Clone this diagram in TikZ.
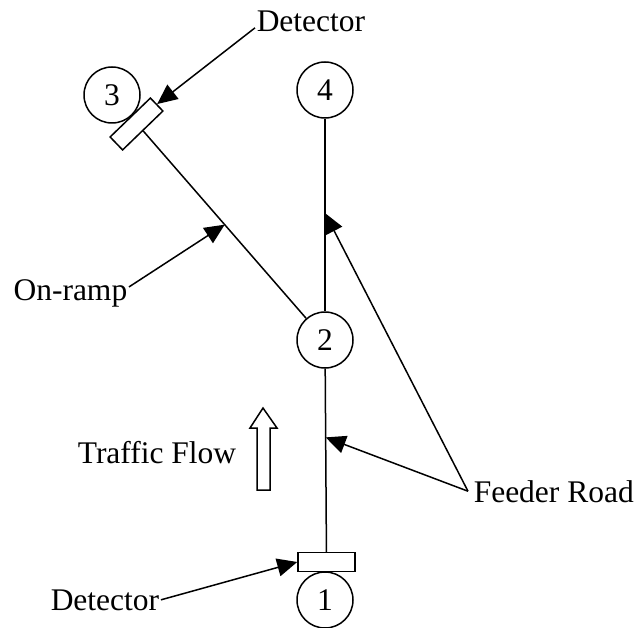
\documentclass[tikz,border=0pt]{standalone}
\usepackage{fontspec}
\setmainfont{Liberation Serif}
\usetikzlibrary{positioning, arrows.meta}

\begin{document}
\begin{tikzpicture}[x=1pt, y=-1pt, line width=1.5pt,
        font=\fontsize{31.5}{38}\selectfont,
        junction/.style={draw, circle, minimum size=56pt, inner sep=0pt},
        detbox/.style={draw, fill=white, rectangle, minimum width=57pt, minimum height=19pt, inner sep=0pt},
        caption/.style={inner sep=1pt},
        pointer/.style={-{Triangle[length=20pt, width=18pt]}}]
    \useasboundingbox (0,0) rectangle (639,628);
    % junctions of the network
    \foreach \n/\x/\y in {1/325/600, 2/325/340, 3/112/95, 4/325/90}
        \node[junction] (n\n) at (\x,\y) {\n};
    % detectors
    \node[detbox] (det1) at (326.5,562) {};
    \node[detbox, rotate=44, minimum width=56pt, minimum height=18pt] (det3) at (136.5,124) {};
    % roads
    \draw (n4) -- (n2) coordinate[pos=.49] (feedtop);
    \draw (n2) -- (det1) coordinate[pos=.375] (feedlow);
    \draw (det3.south) -- (n2) coordinate[pos=.5] (rampmid);
    % labels
    \node[caption, anchor=base west] (dettop) at (255,32) {Detector};
    \node[caption, anchor=base east] (ramp) at (129,300) {On-ramp};
    \node[caption, anchor=base east] (flow) at (238,463) {Traffic Flow};
    \node[caption, anchor=base west] (feeder) at (472,502) {Feeder Road};
    \node[caption, anchor=base west] (detlow) at (49,610) {Detector};
    % traffic direction
    \draw (263,408) -- (277,428) -- (270,428) -- (270,490) -- (257,490) -- (257,428) -- (250,428) -- cycle;
    % pointers
    \draw[pointer] ([yshift=-6pt]dettop.west) -- (det3.east);
    \draw[pointer] ([yshift=6pt]ramp.east) -- (rampmid);
    \foreach \t in {feedtop, feedlow}
        \draw[pointer] ([xshift=-4pt]feeder.west) -- (\t);
    \draw[pointer] (detlow.east) -- (det1.west);
\end{tikzpicture}
\end{document}
